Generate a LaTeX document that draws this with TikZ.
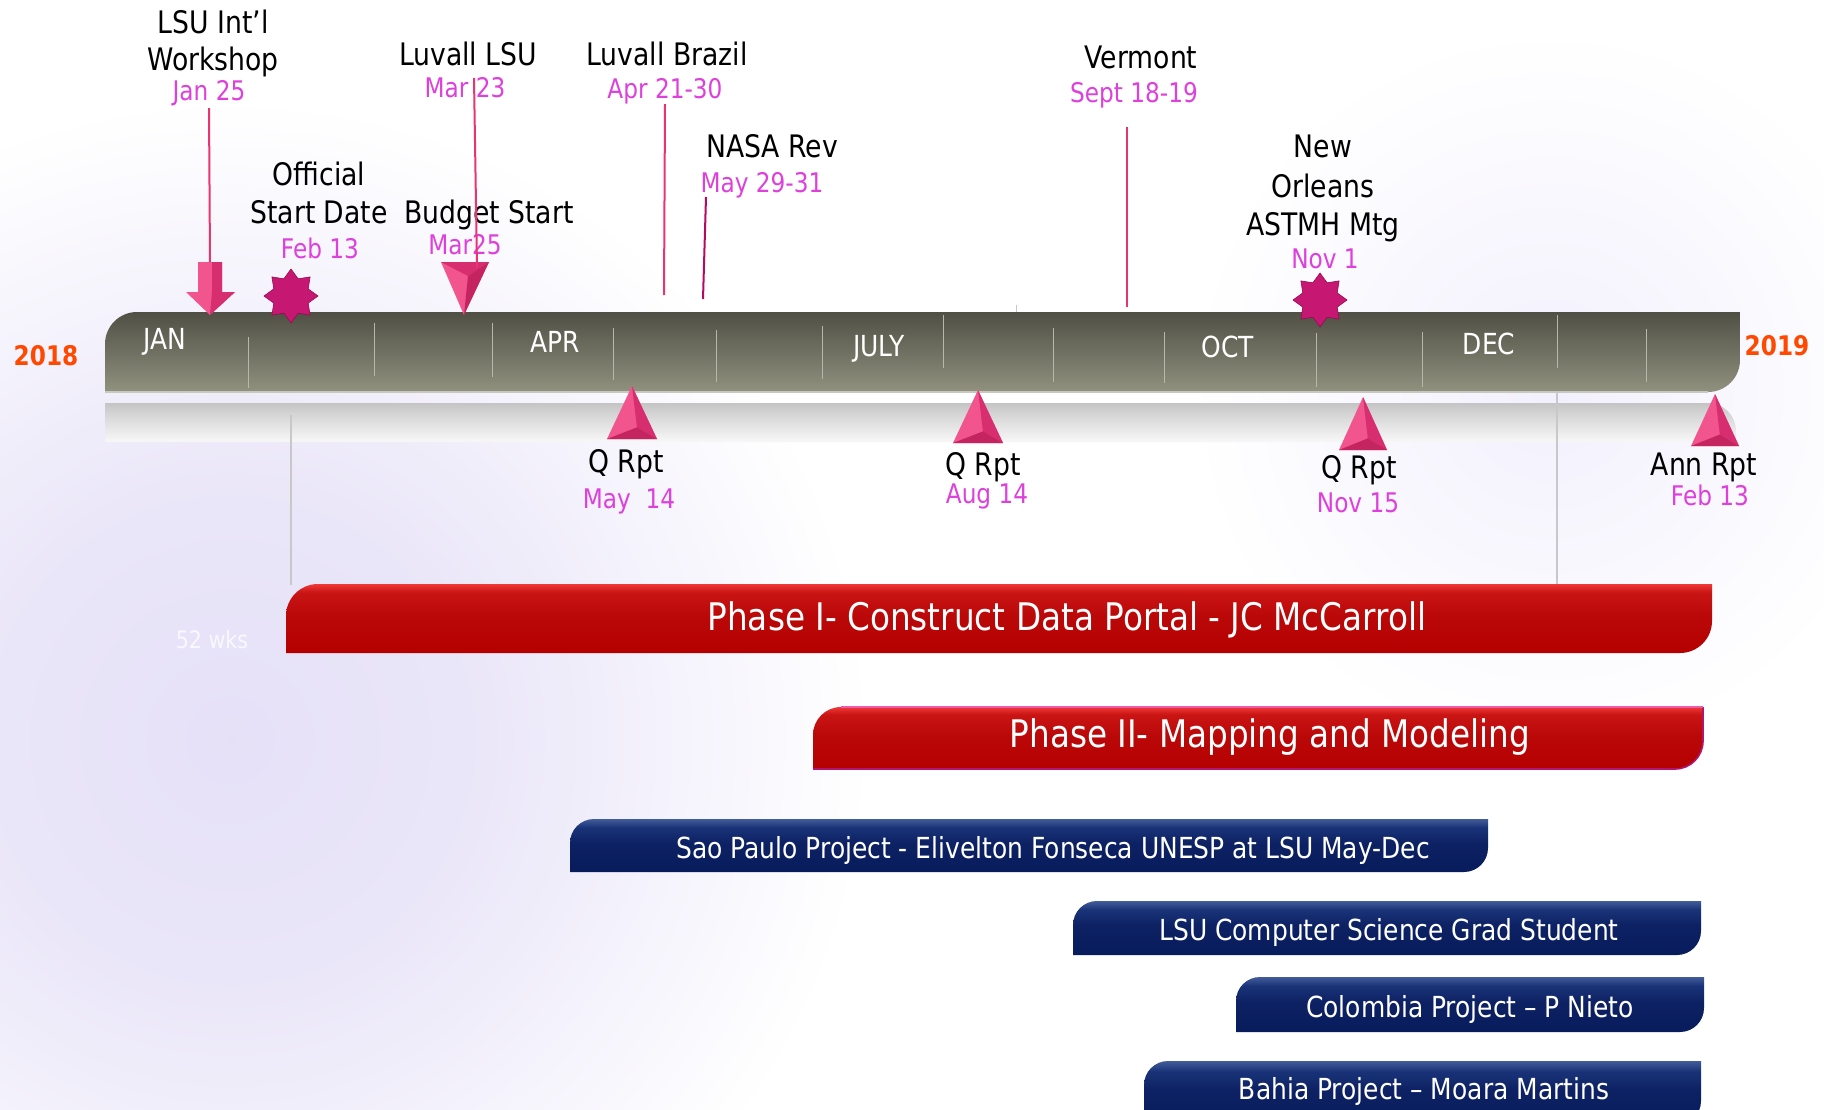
\documentclass[tikz,border=0pt]{standalone}
\usepackage{fontspec}
\setmainfont{DejaVu Sans}[FakeStretch=0.86]
\usetikzlibrary{shapes.geometric}

\definecolor{pinktxt}{RGB}{222,64,220}
\definecolor{conn}{RGB}{234,52,112}
\definecolor{connd}{RGB}{180,10,95}
\definecolor{yearc}{RGB}{255,72,0}
\definecolor{pinkA}{RGB}{242,84,142}
\definecolor{pinkB}{RGB}{214,46,110}
\definecolor{pinkC}{RGB}{196,36,96}
\definecolor{starc}{RGB}{198,24,114}
\definecolor{stard}{RGB}{150,10,80}
\definecolor{mtickc}{RGB}{184,184,170}
\definecolor{guidec}{RGB}{200,200,200}
\definecolor{baredge}{RGB}{200,200,192}
\definecolor{wksc}{RGB}{250,248,255}
\definecolor{ph2edge}{RGB}{178,20,110}
\definecolor{ph2top}{RGB}{236,92,170}

\pgfdeclareradialshading{lavglow}{\pgfpoint{0bp}{0bp}}{rgb(0bp)=(0.90,0.88,0.97); rgb(10bp)=(0.92,0.905,0.976); rgb(25bp)=(1,1,1); rgb(50bp)=(1,1,1)}
\pgfdeclareradialshading{lavglowb}{\pgfpoint{0bp}{0bp}}{rgb(0bp)=(0.95,0.94,0.99); rgb(25bp)=(1,1,1); rgb(50bp)=(1,1,1)}
\pgfdeclareverticalshading{barsh}{100bp}{rgb(0bp)=(0.57,0.57,0.50); rgb(25bp)=(0.57,0.57,0.50); rgb(75bp)=(0.31,0.31,0.27); rgb(100bp)=(0.31,0.31,0.27)}
\pgfdeclareverticalshading{bandsh}{100bp}{rgb(0bp)=(0.97,0.97,0.975); rgb(25bp)=(0.97,0.97,0.975); rgb(55bp)=(0.86,0.86,0.86); rgb(75bp)=(0.77,0.77,0.77); rgb(100bp)=(0.77,0.77,0.77)}
\pgfdeclareverticalshading{redsh}{100bp}{rgb(0bp)=(0.71,0,0); rgb(25bp)=(0.71,0,0); rgb(52bp)=(0.73,0.03,0.03); rgb(69bp)=(0.79,0.08,0.08); rgb(75bp)=(0.94,0.22,0.22); rgb(100bp)=(0.94,0.22,0.22)}
\pgfdeclareverticalshading{bluesh}{100bp}{rgb(0bp)=(0.03,0.11,0.36); rgb(25bp)=(0.03,0.11,0.36); rgb(52bp)=(0.05,0.13,0.39); rgb(67bp)=(0.10,0.20,0.47); rgb(75bp)=(0.26,0.36,0.60); rgb(100bp)=(0.26,0.36,0.60)}

% tab-shaped bar: rounded top-left and bottom-right corners
\newcommand{\tabbar}[6]{%
  \shade[#6] (#1,#4) -- (#1,#2+#5) arc[start angle=180,end angle=270,radius=#5]
    -- (#3,#2) -- (#3,#4-#5) arc[start angle=0,end angle=90,radius=#5] -- cycle;}
% report triangle: apex x, apex y, base y, half width
\newcommand{\uptri}[4]{%
  \fill[pinkA] (#1,#2) -- (#1-#4,#3) -- (#1+#4,#3) -- cycle;
  \fill[pinkB] (#1,#2) -- (#1+#4,#3) -- (#1+0.2*#4,#3-0.22*#3+0.22*#2) -- cycle;
  \fill[pinkC] (#1-#4,#3) -- (#1+#4,#3) -- (#1+0.2*#4,#3-0.22*#3+0.22*#2) -- cycle;}

\begin{document}
\begin{tikzpicture}[x=1pt,y=-1pt,
  lbl/.style={font=\fontsize{31}{37}\selectfont, text=black, inner sep=0pt, anchor=base},
  dt/.style={font=\fontsize{27}{32}\selectfont, text=pinktxt, inner sep=0pt, anchor=base},
  mon/.style={font=\fontsize{29}{34}\selectfont, text=white, inner sep=0pt, anchor=base},
  yr/.style={font=\bfseries\fontsize{27}{32}\selectfont, text=yearc, inner sep=0pt, anchor=base},
  phase/.style={font=\fontsize{38}{44}\selectfont, text=white, inner sep=0pt, anchor=base},
  proj/.style={font=\fontsize{29}{34}\selectfont, text=white, inner sep=0pt, anchor=base},
  connl/.style={draw=conn, line width=2pt},
  mtick/.style={draw=mtickc, line width=1pt},
  guide/.style={draw=guidec, line width=1.2pt},
  starnode/.style={star, star points=8, star point ratio=1.45, minimum size=54pt,
    inner sep=0pt, fill=starc, draw=stard, line width=0.6pt}]

\useasboundingbox (0,0) rectangle (1824,1109);
\fill[white] (0,0) rectangle (1824,1109);
\begin{scope}
  \clip (0,0) rectangle (1824,1109);
  \shade[shading=lavglow] (230,740) circle (640);
  \shade[shading=lavglowb] (1550,390) circle (360);
\end{scope}

% ---- main timeline bar ----
\shade[shading=bandsh]
  (105,403) -- (1708,403) arc[start angle=270,end angle=360,radius=28] -- (1736,442) -- (105,442) -- cycle;
\tabbar{105}{312}{1740}{392}{32}{shading=barsh}
\draw[draw=baredge, line width=1.2pt] (105,392) -- (1708,392);

\foreach \x/\a/\b in {248/337/388, 374/323/376, 492/323/377, 613/328/380, 716/330/382,
  822/326/379, 943/315/368, 1053/328/382, 1164/332/383, 1316/333/387, 1422/332/387,
  1557/315/368, 1646/329/382}
  \draw[mtick] (\x,\a) -- (\x,\b);
\draw[guide, line width=1pt] (1016,305) -- (1016,312);

\node[mon] (jan) at (165,349) {JAN};
\node[mon] (apr) at (555,352) {APR};
\node[mon] (jul) at (879,356) {JULY};
\node[mon] (oct) at (1228,357) {OCT};
\node[mon] (dec) at (1489,354) {DEC};

\node[yr] (y18) at (46,365) {2018};
\node[yr] (y19) at (1777,355) {2019};

% ---- guide lines ----
\coordinate (g1a) at (291,415); \coordinate (g1b) at (291,585);
\coordinate (g2a) at (1557,393); \coordinate (g2b) at (1557,585);
\draw[guide] (g1a) -- (g1b);
\draw[guide] (g2a) -- (g2b);

% ---- top events ----
\node[lbl] (lsu1) at (213,33) {LSU Int’l};
\node[lbl] (lsu2) at (213,70) {Workshop};
\node[dt]  (jan25) at (209,100) {Jan 25};

\node[lbl] (off1) at (319,185) {Official};
\node[lbl] (off2) at (319,223) {Start Date};
\node[dt]  (feb13) at (320,258) {Feb 13};

\node[lbl] (luv1) at (468,65) {Luvall LSU};
\node[dt]  (mar23) at (465,97) {Mar 23};
\node[lbl] (bud) at (489,223) {Budget Start};
\node[dt]  (mar25) at (465,254) {Mar25};

\node[lbl] (luv2) at (667,65) {Luvall Brazil};
\node[dt]  (apr21) at (665,98) {Apr 21-30};

\node[lbl] (nasa) at (772,157) {NASA Rev};
\node[dt]  (may29) at (762,192) {May 29-31};

\node[lbl] (verm) at (1141,68) {Vermont};
\node[dt]  (sept) at (1134,102) {Sept 18-19};

\node[lbl] (no1) at (1323,157) {New};
\node[lbl] (no2) at (1323,197) {Orleans};
\node[lbl] (no3) at (1323,235) {ASTMH Mtg};
\node[dt]  (nov1) at (1325,268) {Nov 1};

% markers above the bar
\fill[pinkA] (198,262) -- (222,262) -- (222,292) -- (235,292) -- (210,315) -- (186,292) -- (198,292) -- cycle;
\fill[pinkB] (212,262) -- (222,262) -- (222,292) -- (235,292) -- (210,315) -- (212,292) -- cycle;
\coordinate (arrtop) at (210,262);

\fill[pinkA] (441,262) -- (489,262) -- (464,315) -- cycle;
\fill[pinkB] (441,262) -- (489,262) -- (468,276) -- cycle;
\fill[pinkC] (489,262) -- (464,315) -- (468,276) -- cycle;

\node[starnode] (star1) at (291,296) {};
\node[starnode] (star2) at (1320,300) {};

% connectors
\coordinate (c1a) at (209,108);
\draw[connl] (c1a) -- (arrtop);
\coordinate (c2a) at (474,78); \coordinate (c2b) at (477,268);
\draw[connl] (c2a) -- (c2b);
\coordinate (c3a) at (665,104); \coordinate (c3b) at (664,295);
\draw[connl] (c3a) -- (c3b);
\coordinate (c4a) at (706,197); \coordinate (c4b) at (703,299);
\draw[connl, draw=connd] (c4a) -- (c4b);
\coordinate (c5a) at (1127,127); \coordinate (c5b) at (1127,307);
\draw[connl] (c5a) -- (c5b);

% ---- reports below the bar ----
\uptri{632}{386}{439}{25}
\uptri{978}{390}{443}{25}
\uptri{1363}{397}{450}{24}
\uptri{1715}{394}{446}{24}

\node[lbl] (q1) at (626,472) {Q Rpt};
\node[dt]  (q1d) at (629,508) {May\ \ 14};
\node[lbl] (q2) at (983,475) {Q Rpt};
\node[dt]  (q2d) at (987,503) {Aug 14};
\node[lbl] (q3) at (1359,478) {Q Rpt};
\node[dt]  (q3d) at (1358,512) {Nov 15};
\node[lbl] (ann) at (1704,475) {Ann Rpt};
\node[dt]  (annd) at (1710,505) {Feb 13};

% ---- phases ----
\tabbar{286}{584}{1712}{653}{32}{shading=redsh}
\node[phase] (ph1) at (1067,630) {Phase I- Construct Data Portal - JC McCarroll};
\node[font=\fontsize{24}{28}\selectfont, text=wksc, inner sep=0pt, anchor=base] (wks) at (212,648) {52 wks};

\tabbar{813}{707}{1703}{769}{28}{shading=redsh}
\draw[draw=ph2edge, line width=1.6pt]
  (813,769) -- (1675,769) arc[start angle=90,end angle=0,radius=28] -- (1703,707);
\draw[draw=ph2top, line width=2pt] (841,707) -- (1703,707);
\node[phase] (ph2) at (1270,747) {Phase II- Mapping and Modeling};

% ---- projects ----
\tabbar{570}{819}{1488}{872}{24}{shading=bluesh}
\node[proj] (sp) at (1053,858) {Sao Paulo Project - Elivelton Fonseca UNESP at LSU May-Dec};
\tabbar{1073}{901}{1701}{955}{24}{shading=bluesh}
\node[proj] (cs) at (1389,940) {LSU Computer Science Grad Student};
\tabbar{1236}{977}{1704}{1032}{24}{shading=bluesh}
\node[proj] (col) at (1470,1017) {Colombia Project – P Nieto};
\tabbar{1144}{1061}{1701}{1125}{24}{shading=bluesh}
\node[proj] (bah) at (1424,1099) {Bahia Project – Moara Martins};

\end{tikzpicture}
\end{document}
